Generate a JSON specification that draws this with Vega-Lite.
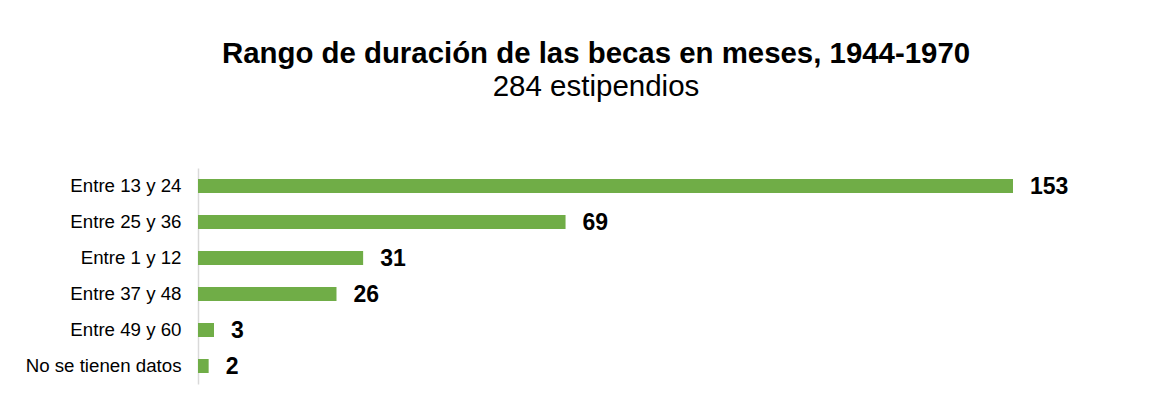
{
  "$schema": "https://vega.github.io/schema/vega-lite/v6.json",
  "width": 815,
  "height": 216,
  "autosize": {"type": "none"},
  "padding": {"left": 198, "top": 168, "right": 162, "bottom": 23},
  "background": "white",
  "config": {"view": {"stroke": null}, "font": "Liberation Sans"},
  "title": {
    "text": "Rango de duración de las becas en meses, 1944-1970",
    "subtitle": "284 estipendios",
    "anchor": "middle",
    "frame": "group",
    "dx": -9.5,
    "font": "Liberation Sans",
    "fontSize": 29.4,
    "fontWeight": "bold",
    "color": "#000000",
    "subtitleFont": "Liberation Sans",
    "subtitleFontSize": 29.5,
    "subtitleColor": "#000000",
    "subtitlePadding": 3,
    "offset": 66
  },
  "data": {
    "values": [
      {"rango": "Entre 13 y 24", "n": 153},
      {"rango": "Entre 25 y 36", "n": 69},
      {"rango": "Entre 1 y 12", "n": 31},
      {"rango": "Entre 37 y 48", "n": 26},
      {"rango": "Entre 49 y 60", "n": 3},
      {"rango": "No se tienen datos", "n": 2}
    ]
  },
  "encoding": {
    "y": {
      "field": "rango",
      "type": "nominal",
      "sort": ["Entre 13 y 24", "Entre 25 y 36", "Entre 1 y 12", "Entre 37 y 48", "Entre 49 y 60", "No se tienen datos"],
      "scale": {"paddingInner": 0, "paddingOuter": 0},
      "axis": {
        "title": null,
        "ticks": false,
        "domainColor": "#d9d9d9",
        "domainWidth": 1.5,
        "labelFont": "Liberation Sans",
        "labelFontSize": 18.7,
        "labelColor": "#000000",
        "labelPadding": 17
      }
    },
    "x": {
      "field": "n",
      "type": "quantitative",
      "scale": {"domain": [0, 153], "nice": false},
      "axis": null
    }
  },
  "layer": [
    {"mark": {"type": "bar", "color": "#70ad47", "size": 14}},
    {
      "mark": {"type": "text", "align": "left", "baseline": "middle", "dx": 17, "dy": 1, "fontSize": 23, "fontWeight": "bold", "color": "#000000", "font": "Liberation Sans"},
      "encoding": {"text": {"field": "n", "type": "quantitative"}}
    }
  ]
}
